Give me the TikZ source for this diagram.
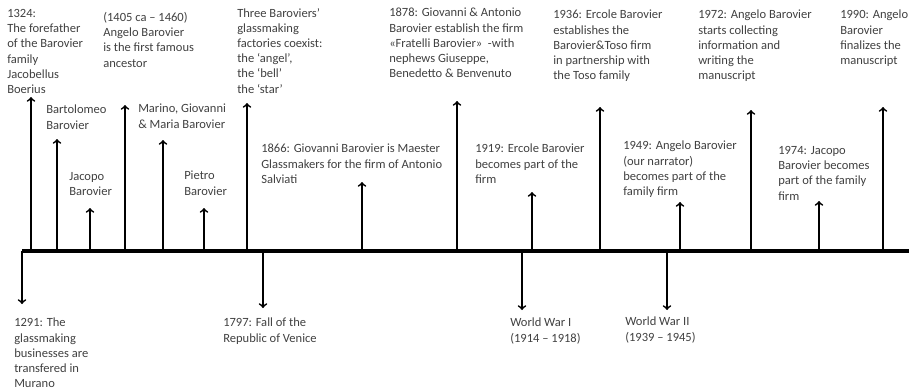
\documentclass[tikz,border=0pt]{standalone}
\usepackage{fontspec}
\setmainfont{Carlito}
\usetikzlibrary{arrows,positioning}
\definecolor{txtgray}{HTML}{404040}

\begin{document}
\begin{tikzpicture}
			[x=0.75pt,y=-0.75pt,
			font=\fontsize{9.4}{11.4}\selectfont,
			lbl/.style={anchor=north west,align=left,inner sep=0pt,text=txtgray},
			arc/.style={->,>=to,line width=1.3pt},
			axis/.style={line width=2.4pt}]
			\useasboundingbox (0,0) rectangle (909,389);
			
			% time axis
			\coordinate (ax0) at (22,251);
			\coordinate (ax1) at (909,251);
			\draw [axis] (ax0) to (ax1);
			
			% events above the axis
			\node (t1324) [lbl] at (7,9) {1324:\\The forefather\\of the Barovier\\family\\Jacobellus\\Boerius};
			\node (tbart) [lbl] at (46,105) {Bartolomeo\\Barovier};
			\node (tjac) [lbl] at (69,172) {Jacopo\\Barovier};
			\node (t1405) [lbl] at (103,12) {(1405 ca – 1460)\\Angelo Barovier\\is the first famous\\ancestor};
			\node (tmar) [lbl] at (138,104) {Marino, Giovanni\\\& Maria Barovier};
			\node (tpie) [lbl] at (184,171) {Pietro\\Barovier};
			\node (tthree) [lbl] at (237,8) {Three Baroviers’\\glassmaking\\factories coexist:\\the ‘angel’,\\the ‘bell’\\the ‘star’};
			\node (t1866) [lbl] at (261,144) {1866: Giovanni Barovier is Maester\\Glassmakers for the firm of Antonio\\Salviati};
			\node (t1878) [lbl] at (389,8) {1878: Giovanni \& Antonio\\Barovier establish the firm\\«Fratelli Barovier»\ \ -with\\nephews Giuseppe,\\Benedetto \& Benvenuto};
			\node (t1919) [lbl] at (475,144) {1919: Ercole Barovier\\becomes part of the\\firm};
			\node (t1936) [lbl] at (553,10) {1936: Ercole Barovier\\establishes the\\Barovier\&Toso firm\\in partnership with\\the Toso family};
			\node (t1949) [lbl] at (623,141) {1949: Angelo Barovier\\(our narrator)\\becomes part of the\\family firm};
			\node (t1972) [lbl] at (698,10) {1972: Angelo Barovier\\starts collecting\\information and\\writing the\\manuscript};
			\node (t1974) [lbl] at (778,146) {1974: Jacopo\\Barovier becomes\\part of the family\\firm};
			\node (t1990) [lbl] at (840,10) {1990: Angelo\\Barovier\\finalizes the\\manuscript};
			
			% events below the axis
			\node (t1291) [lbl] at (14,318) {1291: The\\glassmaking\\businesses are\\transfered in\\Murano};
			\node (t1797) [lbl] at (223,318) {1797: Fall of the\\Republic of Venice};
			\node (tww1) [lbl] at (510,318) {World War I\\(1914 – 1918)};
			\node (tww2) [lbl] at (625,317) {World War II\\(1939 – 1945)};
			
			% arrows up
			\foreach \n/\x/\y in {1324/31/97,bart/57/139,jac/90/208,1405/125/105,mar/163/140,pie/204/208,three/247/103,1866/362/182,1878/457/101,1919/532/192,1936/600/107,1949/680/202,1972/751/110,1974/819/201,1990/883/107}
			{
				\coordinate (b\n) at (\x,251);
				\coordinate (e\n) at (\x,\y);
				\draw [arc] (b\n) to (e\n);
			}
			
			% arrows down
			\foreach \n/\x/\y in {1291/22/304,1797/263/308,ww1/522/310,ww2/667/310}
			{
				\coordinate (b\n) at (\x,251);
				\coordinate (e\n) at (\x,\y);
				\draw [arc] (b\n) to (e\n);
			}
\end{tikzpicture}
\end{document}
